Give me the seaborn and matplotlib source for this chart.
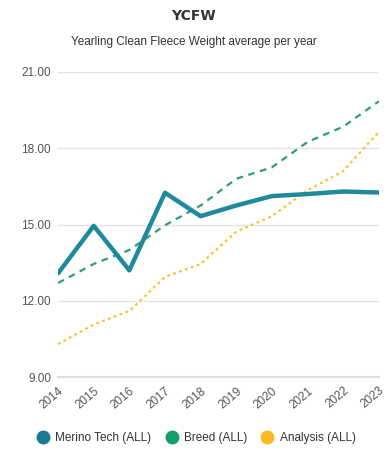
import pandas as pd
import seaborn as sns
import matplotlib.pyplot as plt
from matplotlib.lines import Line2D
from matplotlib.ticker import FormatStrFormatter

years = [2014, 2015, 2016, 2017, 2018, 2019, 2020, 2021, 2022, 2023]
merino = [13.08, 14.95, 13.2, 16.25, 15.33, 15.75, 16.12, 16.2, 16.3, 16.26]
breed = [12.7, 13.45, 14.0, 14.97, 15.75, 16.8, 17.25, 18.25, 18.85, 19.85]
analysis = [10.3, 11.07, 11.6, 12.94, 13.45, 14.72, 15.33, 16.35, 17.1, 18.65]
series = ['Merino Tech (ALL)', 'Breed (ALL)', 'Analysis (ALL)']

df = pd.DataFrame({'year': years, series[0]: merino, series[1]: breed, series[2]: analysis})

sns.set_style('white')
plt.rcParams['font.family'] = ['Liberation Sans', 'DejaVu Sans']

fig = plt.figure(figsize=(3.87, 4.5), dpi=100)
ax = fig.add_axes([0.15, 0.162, 0.829, 0.678])

sns.lineplot(data=df, x='year', y=series[1], ax=ax, color='#2e9e74', lw=1.6, linestyle=(0, (3, 2.5)))
sns.lineplot(data=df, x='year', y=series[2], ax=ax, color='#fcc02e', lw=1.6, linestyle=(0, (1.2, 1.6)))
sns.lineplot(data=df, x='year', y=series[0], ax=ax, color='#1f8a9c', lw=3.2)

ax.set_xlim(2014, 2023)
ax.set_ylim(9, 21)
ax.set_yticks([9, 12, 15, 18, 21])
ax.yaxis.set_major_formatter(FormatStrFormatter('%.2f'))
ax.set_xticks(years)
ax.set_xticklabels([str(y) for y in years], rotation=40, ha='right', rotation_mode='anchor')
ax.grid(axis='y', color='#e3e3e3', lw=1)
ax.set_xlabel('')
ax.set_ylabel('')
for s in ['top', 'right', 'left']:
    ax.spines[s].set_visible(False)
ax.spines['bottom'].set_color('#dddddd')
ax.spines['bottom'].set_linewidth(1.5)
ax.tick_params(axis='x', colors='#dddddd', length=5, width=1.2, direction='inout', labelcolor='#555555', labelsize=8.5, pad=3)
ax.tick_params(axis='y', length=0, labelcolor='#555555', labelsize=8.5, pad=5)

fig.text(0.5, 0.965, 'YCFW', ha='center', va='center', fontsize=10, fontweight='bold', color='#333333',
         family=['DejaVu Sans'])
fig.text(0.5, 0.906, 'Yearling Clean Fleece Weight average per year', ha='center', va='center',
         fontsize=8.5, color='#333333')

handles = [Line2D([], [], marker='o', ls='', markersize=9, color=c) for c in ['#1b7891', '#149e69', '#fdb924']]
fig.legend(handles, series, loc='center', bbox_to_anchor=(0.5, 0.027), ncol=3, frameon=False,
           fontsize=8.5, handletextpad=0.05, columnspacing=0.7, labelcolor='#333333')

fig.savefig('out.png', dpi=100)
